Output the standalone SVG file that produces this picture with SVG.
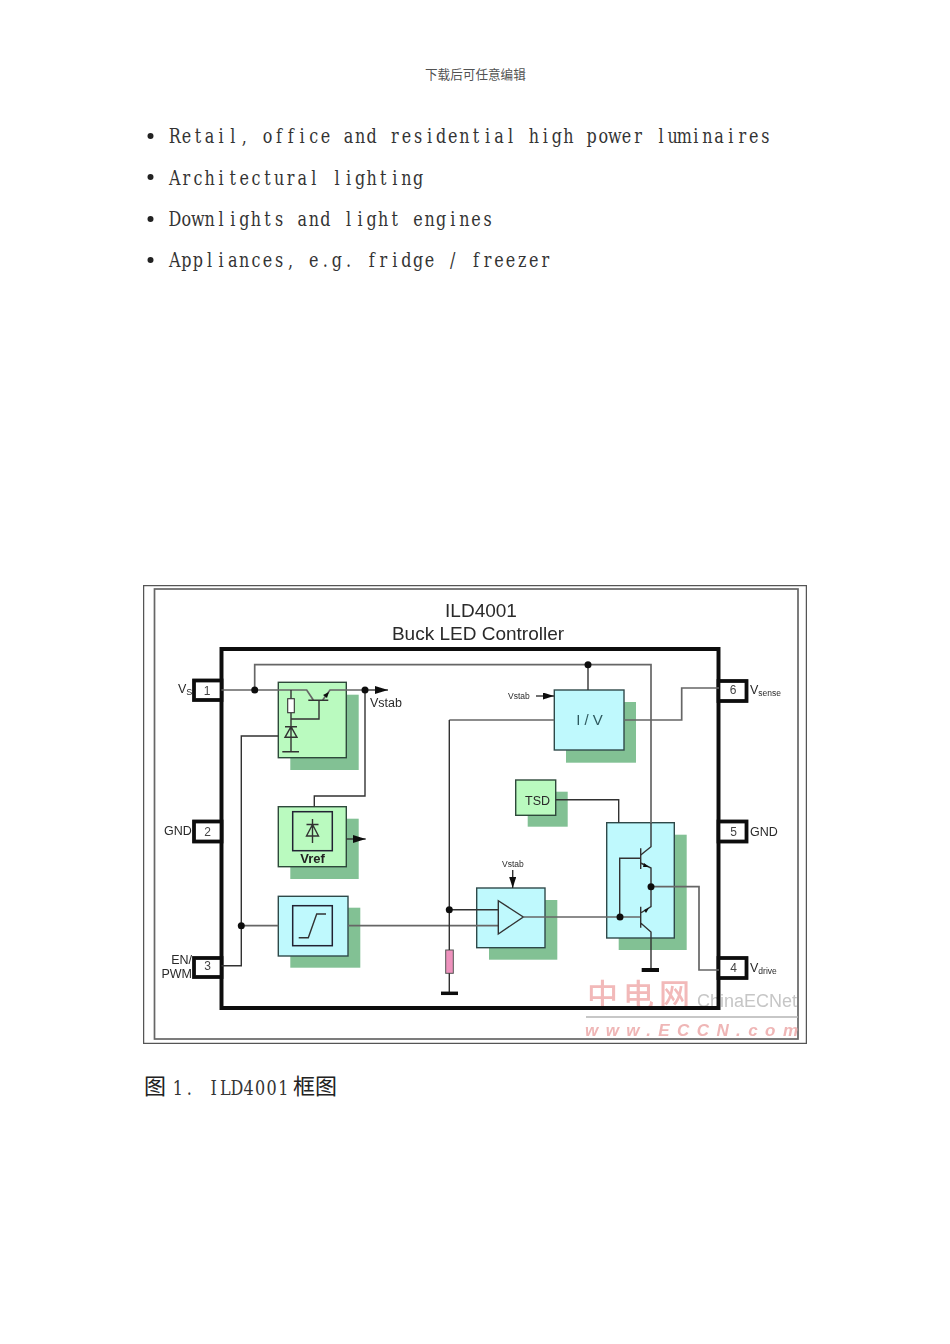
<svg xmlns="http://www.w3.org/2000/svg" width="950" height="1344" viewBox="0 0 950 1344">
<style>
.doc{font-family:"DejaVu Serif",serif;font-size:19.5px;fill:#333;text-anchor:middle}
.cjk{font-family:"Noto Sans CJK SC",sans-serif;fill:#222}
.lbl{font-family:"Liberation Sans",Arial,sans-serif;fill:#2a2a2a}
.pinno{font-family:"Liberation Sans",Arial,sans-serif;font-size:12px;fill:#444;text-anchor:middle}
.pin{fill:#fff;stroke:#111;stroke-width:3.8}
.shadow{fill:#82c194}
.green{fill:#bafabf;stroke:#2f4a3a;stroke-width:1.4}
.cyan{fill:#bff9fd;stroke:#2f4a4a;stroke-width:1.4}
.inner{fill:none;stroke:#223;stroke-width:1.5}
.w{fill:none;stroke:#333;stroke-width:1.4}
.g{fill:none;stroke:#666;stroke-width:1.7}
.dot{fill:#111}
.bar{stroke:#111;stroke-width:3.5;fill:none}
.wm-cjk{font-family:"Noto Sans CJK SC",sans-serif;fill:#f2b9b9;font-weight:500}
.wm-en{font-family:"Liberation Sans",sans-serif;fill:#c6c6c6}
.wm-url{font-family:"Liberation Sans",sans-serif;fill:#efb6b6;font-style:italic;font-weight:700}
</style>
<defs>
<filter id="soft" x="0" y="0" width="100%" height="100%"><feGaussianBlur stdDeviation="0.5"/></filter>
<marker id="arr" markerWidth="14" markerHeight="10" refX="13" refY="4" orient="auto" markerUnits="userSpaceOnUse"><path d="M0 0L13 4L0 8z" fill="#111"/></marker>
<marker id="arrs" markerWidth="12" markerHeight="10" refX="11" refY="3.5" orient="auto" markerUnits="userSpaceOnUse"><path d="M0 0L11 3.5L0 7z" fill="#111"/></marker>
</defs>
<rect width="950" height="1344" fill="#fff"/>
<text id="header" class="cjk" x="425" y="79" font-size="12.6" fill-opacity="0.8">下载后可任意编辑</text>
<g id="bullets">
<circle cx="150.500" cy="136" r="3" fill="#222"/>
<circle cx="150.500" cy="177" r="3" fill="#222"/>
<circle cx="150.500" cy="219" r="3" fill="#222"/>
<circle cx="150.500" cy="260" r="3" fill="#222"/>
<g transform="scale(0.82 1)">
<text class="doc" y="143" x="213.2 227.3 241.4 255.6 269.7 283.8 297.9 312.1 326.2 340.3 354.4 368.5 382.7 396.8 410.9 425 439.2 453.3 467.4 481.5 495.6 509.8 523.9 538 552.1 566.3 580.4 594.5 608.6 622.7 636.9 651 665.1 679.2 693.3 707.5 721.6 735.7 749.8 764 778.1 792.2 806.3 820.4 834.6 848.7 862.8 876.9 891.1 905.2 919.3 933.4">Retail, office and residential high power luminaires</text>
<text class="doc" y="185" x="213.2 227.3 241.4 255.6 269.7 283.8 297.9 312.1 326.2 340.3 354.4 368.5 382.7 396.8 410.9 425 439.2 453.3 467.4 481.5 495.6 509.8">Architectural lighting</text>
<text class="doc" y="226" x="213.2 227.3 241.4 255.6 269.7 283.8 297.9 312.1 326.2 340.3 354.4 368.5 382.7 396.8 410.9 425 439.2 453.3 467.4 481.5 495.6 509.8 523.9 538 552.1 566.3 580.4 594.5">Downlights and light engines</text>
<text class="doc" y="267" x="213.2 227.3 241.4 255.6 269.7 283.8 297.9 312.1 326.2 340.3 354.4 368.5 382.7 396.8 410.9 425 439.2 453.3 467.4 481.5 495.6 509.8 523.9 538 552.1 566.3 580.4 594.5 608.6 622.7 636.9 651 665.1">Appliances, e.g. fridge / freezer</text>
</g>
</g>
<g id="caption">
<text class="cjk" x="144" y="1094" font-size="22">图</text>
<g transform="scale(0.82 1)">
<text class="doc" y="1095" x="216.8 231">1.</text>
<text class="doc" y="1095" x="260.7 274.8 288.9 303.1 317.2 331.3 345.4">ILD4001</text>
</g>
<text class="cjk" x="293" y="1094" font-size="22">框图</text>
</g>
<g id="figure" filter="url(#soft)">
<rect id="frame-outer" x="143.500" y="585.500" width="663" height="458" fill="none" stroke="#555" stroke-width="1.5"/>
<rect id="frame-inner" x="154.500" y="589" width="643.500" height="450" fill="none" stroke="#666" stroke-width="1.7"/>
<g id="watermark">
<text class="wm-cjk" x="587" y="1006" font-size="31" letter-spacing="5">中电网</text>
<text class="wm-en" x="697" y="1007" font-size="18">ChinaECNet</text>
<line x1="586" y1="1017" x2="798" y2="1017" stroke="#b5b5b5" stroke-width="1.500"/>
<text class="wm-url" x="585" y="1036" font-size="17" textLength="213">www.ECCN.com</text>
</g>
<g id="title" class="lbl" text-anchor="middle">
<text x="481" y="617" font-size="19">ILD4001</text>
<text x="478" y="640" font-size="19">Buck LED Controller</text>
</g>
<g id="chip"><rect x="221.500" y="649" width="497" height="359" fill="none" stroke="#111" stroke-width="4"/></g>
<g id="pin-1"><rect class="pin" x="194" y="680.500" width="27.500" height="19.500"/><text class="pinno" x="207" y="694.500">1</text><text class="lbl" x="178" y="693" font-size="12.500">V<tspan font-size="9" dy="2">S</tspan></text></g>
<g id="pin-2"><rect class="pin" x="194" y="821.500" width="27.500" height="20"/><text class="pinno" x="207.500" y="835.500">2</text><text class="lbl" x="164" y="835" font-size="12.500">GND</text></g>
<g id="pin-3"><rect class="pin" x="194" y="958" width="27.500" height="19"/><text class="pinno" x="207.500" y="970">3</text><text class="lbl" x="192" y="964" font-size="12.500" text-anchor="end">EN/</text><text class="lbl" x="192" y="978" font-size="12.500" text-anchor="end">PWM</text></g>
<g id="pin-6"><rect class="pin" x="718.500" y="681" width="28" height="20"/><text class="pinno" x="733" y="694">6</text><text class="lbl" x="750" y="694" font-size="12.500">V<tspan font-size="8.500" dy="2">sense</tspan></text></g>
<g id="pin-5"><rect class="pin" x="718.500" y="821.500" width="28" height="20"/><text class="pinno" x="733.500" y="836">5</text><text class="lbl" x="750" y="836" font-size="12.500">GND</text></g>
<g id="pin-4"><rect class="pin" x="718.500" y="958" width="28" height="20"/><text class="pinno" x="733.500" y="972">4</text><text class="lbl" x="750" y="972" font-size="12.500">V<tspan font-size="8.500" dy="2">drive</tspan></text></g>
<g id="vreg">
<rect class="shadow" x="290.300" y="694.700" width="68.400" height="75.300"/>
<rect class="green" x="278.300" y="682.300" width="68" height="75.400"/>
</g>
<g id="vref">
<rect class="shadow" x="290.300" y="818.700" width="68.400" height="60.300"/>
<rect class="green" x="278.300" y="806.700" width="68" height="60"/>
<rect class="inner" x="292.700" y="811.700" width="39.600" height="39"/>
<path class="w" d="M312.500 819V843M306.500 824.500H318.500M312.500 824.500L306.500 836H318.500Z"/>
<text x="312.500" y="863" font-family="Liberation Sans,sans-serif" font-size="13" font-weight="700" fill="#222" text-anchor="middle">Vref</text>
</g>
<g id="softstart">
<rect class="shadow" x="290.300" y="907.700" width="70" height="60"/>
<rect class="cyan" x="278.300" y="896.300" width="69.700" height="59.700"/>
<rect class="inner" x="292.700" y="905.700" width="39.600" height="40"/>
<path class="w" d="M298.700 937.700H308.300L316.700 914H326"/>
</g>
<g id="iv">
<rect class="shadow" x="566" y="702" width="70" height="60.700"/>
<rect class="cyan" x="554.300" y="690" width="69.700" height="60"/>
<text class="lbl" x="589.500" y="725" font-size="15" text-anchor="middle" style="fill:#2f5a5f">I / V</text>
</g>
<g id="tsd">
<rect class="shadow" x="527.700" y="791.700" width="40" height="35"/>
<rect class="green" x="515.700" y="780" width="40" height="35.300"/>
<text class="lbl" x="537.500" y="805" font-size="12.500" text-anchor="middle">TSD</text>
</g>
<g id="amp">
<rect class="shadow" x="489" y="900" width="68.300" height="59.700"/>
<rect class="cyan" x="476.700" y="888" width="68.300" height="59.700"/>
</g>
<g id="driver">
<rect class="shadow" x="618.700" y="834.700" width="68" height="115.300"/>
<rect class="cyan" x="606.700" y="822.700" width="67.600" height="115.300"/>
</g>
<g id="resistor-load"><rect x="445.700" y="950" width="7.600" height="23.300" fill="#ee92bd" stroke="#555" stroke-width="1"/></g>
<g id="connectors">
<path class="g" d="M221.500 690H306.700L313.300 700M322.700 700L330 690H365"/>
<path class="w" d="M365 690H388" marker-end="url(#arr)"/>
<path class="g" d="M254.700 690V664.700H651V823"/>
<path class="w" d="M588 664.700V690"/>
<path class="w" d="M651 823V846.700L640.700 855"/>
<path class="w" d="M319 700.300V719H291M291 690V698.700M291 712.700V751.700M285 726.700H297M291 726.700L285 737.300H297Z"/>
<path class="w" d="M308.300 700.300H328.300M282.300 751.700H299" stroke-width="1.800"/>
<path class="dot" d="M329 692L323 695L327 698z"/>
<rect x="287.700" y="698.700" width="6.600" height="14" fill="#fff" stroke="#333" stroke-width="1.100"/>
<path class="w" d="M278.300 736H241.300V965.700H221.500"/>
<path class="g" d="M241.300 925.700H278.300"/>
<path class="g" d="M348 925.700H498.300"/>
<path class="w" d="M365 690V796H314.300V806.700"/>
<path class="w" d="M346.300 839H365.700" marker-end="url(#arr)"/>
<path class="g" d="M554.300 720H449.300"/>
<path class="w" d="M449.300 720V950M449.300 973.300V993.300M449.300 909.700H498.300"/>
<path class="bar" d="M441 993.300H458"/>
<path class="w" d="M498.300 900.700V934L523.300 917Z"/>
<path class="g" d="M523.300 917H640.700"/>
<path class="g" d="M624 720H681.700V688H719"/>
<path class="w" d="M555.700 799.700H618.700V822.700"/>
<path class="w" d="M536 696H554" marker-end="url(#arrs)"/>
<path class="w" d="M512.700 870V888" marker-end="url(#arrs)"/>
<path class="w" d="M640.700 848.300V869M640.700 858.300H619.700V917M640.700 863L651 868V906.700L640.700 913M640.700 906.700V927.700M640.700 923L651 932V970"/>
<path class="dot" d="M649 867L644 863L643 867zM649 908L644 910L646 913z"/>
<path class="bar" d="M641.700 970H659" style="stroke-width:4"/>
<path class="g" d="M651 886.700H699V970H719"/>
<g class="dot">
<circle cx="254.700" cy="690" r="3.500"/><circle cx="365" cy="690" r="3.500"/><circle cx="588" cy="664.700" r="3.500"/>
<circle cx="241.300" cy="925.700" r="3.500"/><circle cx="449.300" cy="909.700" r="3.500"/>
<circle cx="620" cy="917" r="3.500"/><circle cx="651" cy="886.700" r="3.500"/>
</g>
</g>
<g id="signal-labels" class="lbl">
<text x="370" y="707" font-size="12.500">Vstab</text>
<text x="508" y="698.500" font-size="8.500">Vstab</text>
<text x="502" y="867" font-size="8.500">Vstab</text>
</g>
</g>
</svg>
